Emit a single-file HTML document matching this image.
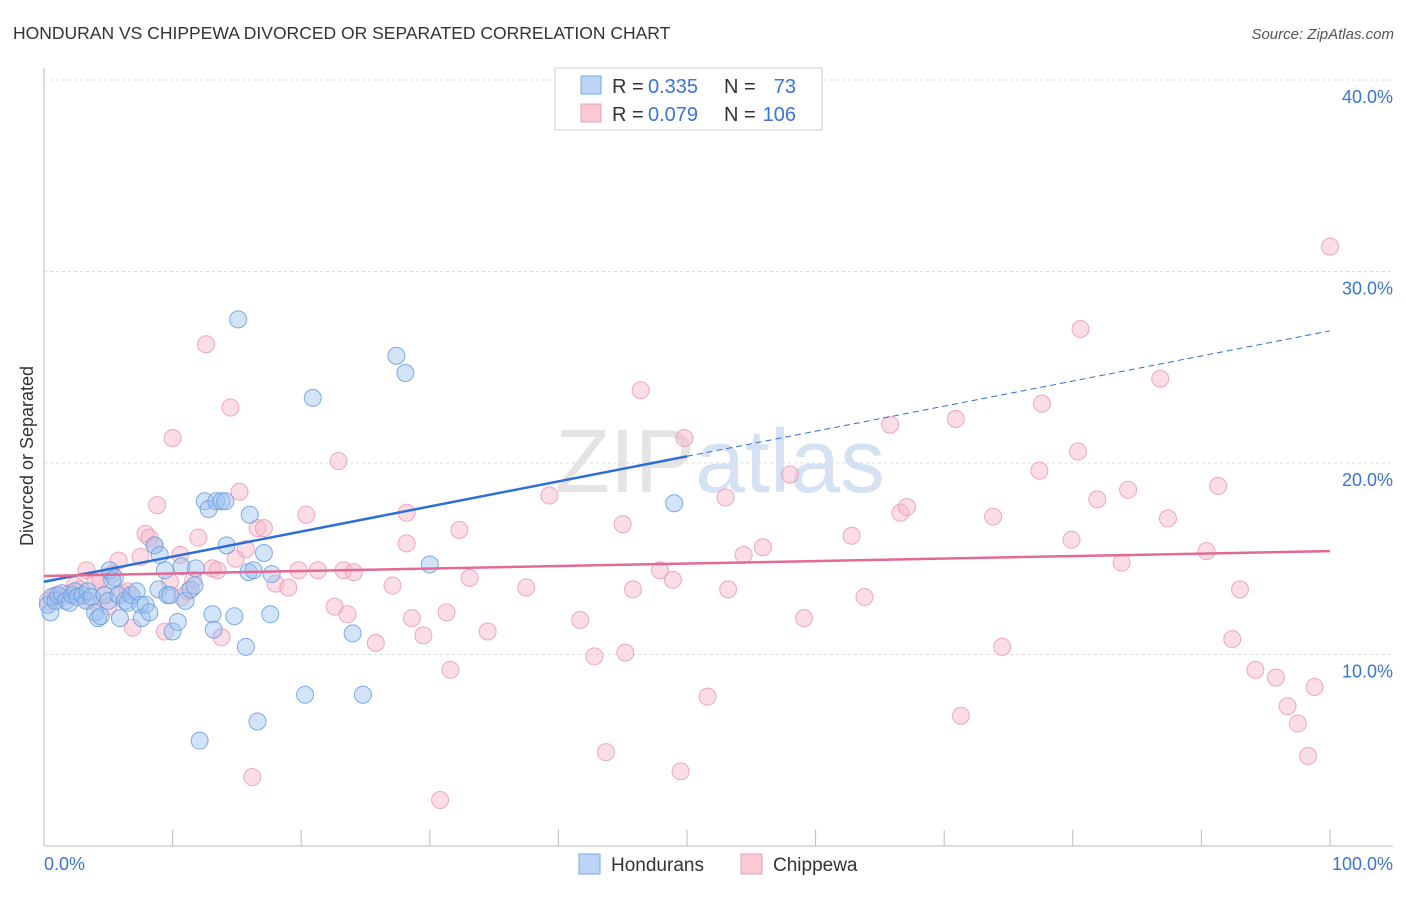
<!DOCTYPE html>
<html><head><meta charset="utf-8">
<style>
body{margin:0;background:#fff;font-family:"Liberation Sans",sans-serif;}
svg text{font-family:"Liberation Sans",sans-serif;}
</style></head>
<body>
<svg id="chart" width="1406" height="892" xmlns="http://www.w3.org/2000/svg">
<text x="13" y="39" font-size="17.5" fill="#333">HONDURAN VS CHIPPEWA DIVORCED OR SEPARATED CORRELATION CHART</text>
<text x="1394" y="39" font-size="15" fill="#555" text-anchor="end" font-style="italic">Source: ZipAtlas.com</text>
<text transform="translate(33,456) rotate(-90)" font-size="18" fill="#333" text-anchor="middle">Divorced or Separated</text>
<text x="720" y="492" font-size="90" fill="#e4e4e4" text-anchor="middle" font-family="Liberation Serif"><tspan>ZIP</tspan><tspan fill="#d4e2f4" font-family="Liberation Sans">atlas</tspan></text>
<g id="grid"></g><g id="axes"></g><g id="marks"></g><g id="trends"></g>
<g>
<rect x="555" y="68" width="267" height="62" fill="#fff" stroke="#ccc"/>
<rect x="581" y="76" width="20" height="18" fill="#bcd5f5" stroke="#7aa8e6"/>
<rect x="581" y="104" width="20" height="18" fill="#fbc8d6" stroke="#eca0b8"/>
<text x="612" y="93" font-size="20" fill="#333">R =</text>
<text x="648" y="93" font-size="20" fill="#3b73d6">0.335</text>
<text x="724" y="93" font-size="20" fill="#333">N =</text>
<text x="796" y="93" font-size="20" fill="#3b73d6" text-anchor="end">73</text>
<text x="612" y="121" font-size="20" fill="#333">R =</text>
<text x="648" y="121" font-size="20" fill="#3b73d6">0.079</text>
<text x="724" y="121" font-size="20" fill="#333">N =</text>
<text x="796" y="121" font-size="20" fill="#3b73d6" text-anchor="end">106</text>
</g>
<g>
<rect x="579" y="854" width="21" height="20" fill="#bcd5f5" stroke="#7aa8e6"/>
<text x="611" y="871" font-size="19" fill="#333">Hondurans</text>
<rect x="741" y="854" width="21" height="20" fill="#fbc8d6" stroke="#eca0b8"/>
<text x="773" y="871" font-size="19" fill="#333">Chippewa</text>
</g>
</svg>
<script>
const yTicks=[10,20,30,40];
const yTickLabels=["10.0%","20.0%","30.0%","40.0%"];
const xTickLabels=["0.0%","100.0%"];
const blueX=[0.3,0.5,0.6,0.9,1.1,1.4,1.7,2.0,2.2,2.4,2.6,3.0,3.3,3.4,3.7,3.97,4.2,4.4,4.7,5.0,5.1,5.3,5.5,5.8,5.9,6.3,6.5,6.8,7.2,7.5,7.6,7.9,8.2,8.6,8.9,9.0,9.4,9.6,9.8,10.0,10.4,10.7,11.0,11.4,11.7,11.8,12.1,12.5,12.8,13.1,13.2,13.4,13.8,14.1,14.2,14.8,15.1,15.7,15.9,16.0,16.3,16.6,17.1,17.6,17.7,20.3,20.9,24.0,24.8,27.4,28.1,30.0,49.0];
const blueY=[12.6,12.2,13.0,12.8,13.1,13.2,12.8,12.7,13.1,13.3,13.0,13.1,12.8,13.3,13.0,12.2,11.9,12.0,13.1,12.8,14.4,13.9,14.0,13.1,11.9,12.8,12.7,13.1,13.3,12.6,11.9,12.6,12.2,15.7,13.4,15.2,14.4,13.1,13.1,11.2,11.7,14.6,12.8,13.4,13.6,14.5,5.5,18.0,17.6,12.1,11.3,18.0,18.0,18.0,15.7,12.0,27.5,10.4,14.3,17.3,14.4,6.5,15.3,12.1,14.2,7.9,23.4,11.1,7.9,25.6,24.7,14.7,17.9];
const pinkX=[0.3,0.9,1.4,2.0,2.4,2.8,3.3,3.6,4.0,4.4,4.7,5.0,5.3,5.8,6.1,6.5,6.9,7.5,7.9,8.2,8.6,8.8,9.4,9.8,10.0,10.6,10.7,11.2,11.6,12.0,12.6,13.1,13.5,13.8,14.5,14.9,15.2,15.7,16.2,16.6,17.1,18.0,19.0,19.8,20.4,21.3,22.6,22.9,23.3,23.6,24.1,25.8,27.1,28.2,28.2,28.6,29.5,31.3,31.6,32.3,33.1,34.5,37.5,39.3,41.7,42.8,43.7,45.0,45.2,45.8,46.4,47.9,48.9,49.5,49.8,51.6,53.0,53.2,54.4,55.9,58.0,59.1,62.8,63.8,65.8,66.6,67.1,70.9,71.3,73.8,74.5,77.4,77.6,79.9,80.6,80.4,81.9,83.8,84.3,86.8,87.4,90.4,91.3,92.4,93.0,94.2,95.8,96.7,97.5,98.3,98.8,100,30.8];
const pinkY=[12.8,13.1,13.0,13.2,13.6,13.4,14.4,12.8,13.8,13.9,13.1,12.5,14.2,14.9,13.2,13.3,11.4,15.1,16.3,16.1,15.7,17.8,11.2,13.8,21.3,15.2,13.0,13.3,13.9,16.1,26.2,14.5,14.4,10.9,22.9,15.0,18.5,15.5,3.6,16.6,16.6,13.7,13.5,14.4,17.3,14.4,12.5,20.1,14.4,12.1,14.3,10.6,13.6,17.4,15.8,11.9,11.0,12.2,9.2,16.5,14.0,11.2,13.5,18.3,11.8,9.9,4.9,16.8,10.1,13.4,23.8,14.4,13.9,3.9,21.3,7.8,18.2,13.4,15.2,15.6,19.4,11.9,16.2,13.0,22.0,17.4,17.7,22.3,6.8,17.2,10.4,19.6,23.1,16.0,27.0,20.6,18.1,14.8,18.6,24.4,17.1,15.4,18.8,10.8,13.4,9.2,8.8,7.3,6.4,4.7,8.3,31.3,2.4];
const blueTrend=[13.8,26.9];
const pinkTrend=[14.1,15.4];
const NS='http://www.w3.org/2000/svg';
const X=v=>44+v*12.86, Y=v=>846-v*19.15;
function mk(tag,attrs,parent){const e=document.createElementNS(NS,tag);for(const k in attrs)e.setAttribute(k,attrs[k]);document.getElementById(parent).appendChild(e);return e;}
yTicks.forEach((t,i)=>{
 const g=mk('line',{x1:44,x2:1393,y1:Y(t),y2:Y(t),stroke:'#ddd','stroke-dasharray':'3,3'},'grid');
 
 
 const tx=mk('text',{x:1393,y:Y(t)+23,'font-size':18,fill:'#3b73d6','text-anchor':'end'},'grid');
 tx.textContent=yTickLabels[i];
 
 
});
const ax=mk('line',{x1:44,x2:44,y1:68,y2:846,stroke:'#bbb'},'axes');


const bx=mk('line',{x1:44,x2:1393,y1:846,y2:846,stroke:'#bbb'},'axes');


for(let i=0;i<=10;i++){
 const t=mk('line',{x1:X(i*10),x2:X(i*10),y1:830,y2:846,stroke:'#bbb'},'axes');
 
 
}
[[0,'start'],[100,'end']].forEach(([v,a],i)=>{
 const t=mk('text',{x:i?1393:44,y:870,'font-size':18,fill:'#3b73d6','text-anchor':a},'axes');
 t.textContent=xTickLabels[i];
 
 
});
function dots(xs,ys,fill,stroke,name){
 xs.forEach((x,i)=>{
  const c=mk('circle',{cx:X(x),cy:Y(ys[i]),r:8.5,fill:fill,'fill-opacity':0.45,stroke:stroke,'stroke-width':1,'stroke-opacity':0.85},'marks');
  
  
 });
}
dots(pinkX,pinkY,'#f7b3c8','#eb9bb5','chippewa-point');
dots(blueX,blueY,'#9ec2ef','#6b9fe0','honduran-point');
const bAt=v=>blueTrend[0]+(blueTrend[1]-blueTrend[0])*v/100;
let l=mk('line',{x1:X(0),y1:Y(bAt(0)),x2:X(50),y2:Y(bAt(50)),stroke:'#2d6fd6','stroke-width':2.5},'trends');


l=mk('line',{x1:X(50),y1:Y(bAt(50)),x2:X(100),y2:Y(bAt(100)),stroke:'#2d6fd6','stroke-width':1,'stroke-dasharray':'6,4'},'trends');


l=mk('line',{x1:X(0),y1:Y(pinkTrend[0]),x2:X(100),y2:Y(pinkTrend[1]),stroke:'#e36a96','stroke-width':2.5},'trends');


</script>
</body></html>
